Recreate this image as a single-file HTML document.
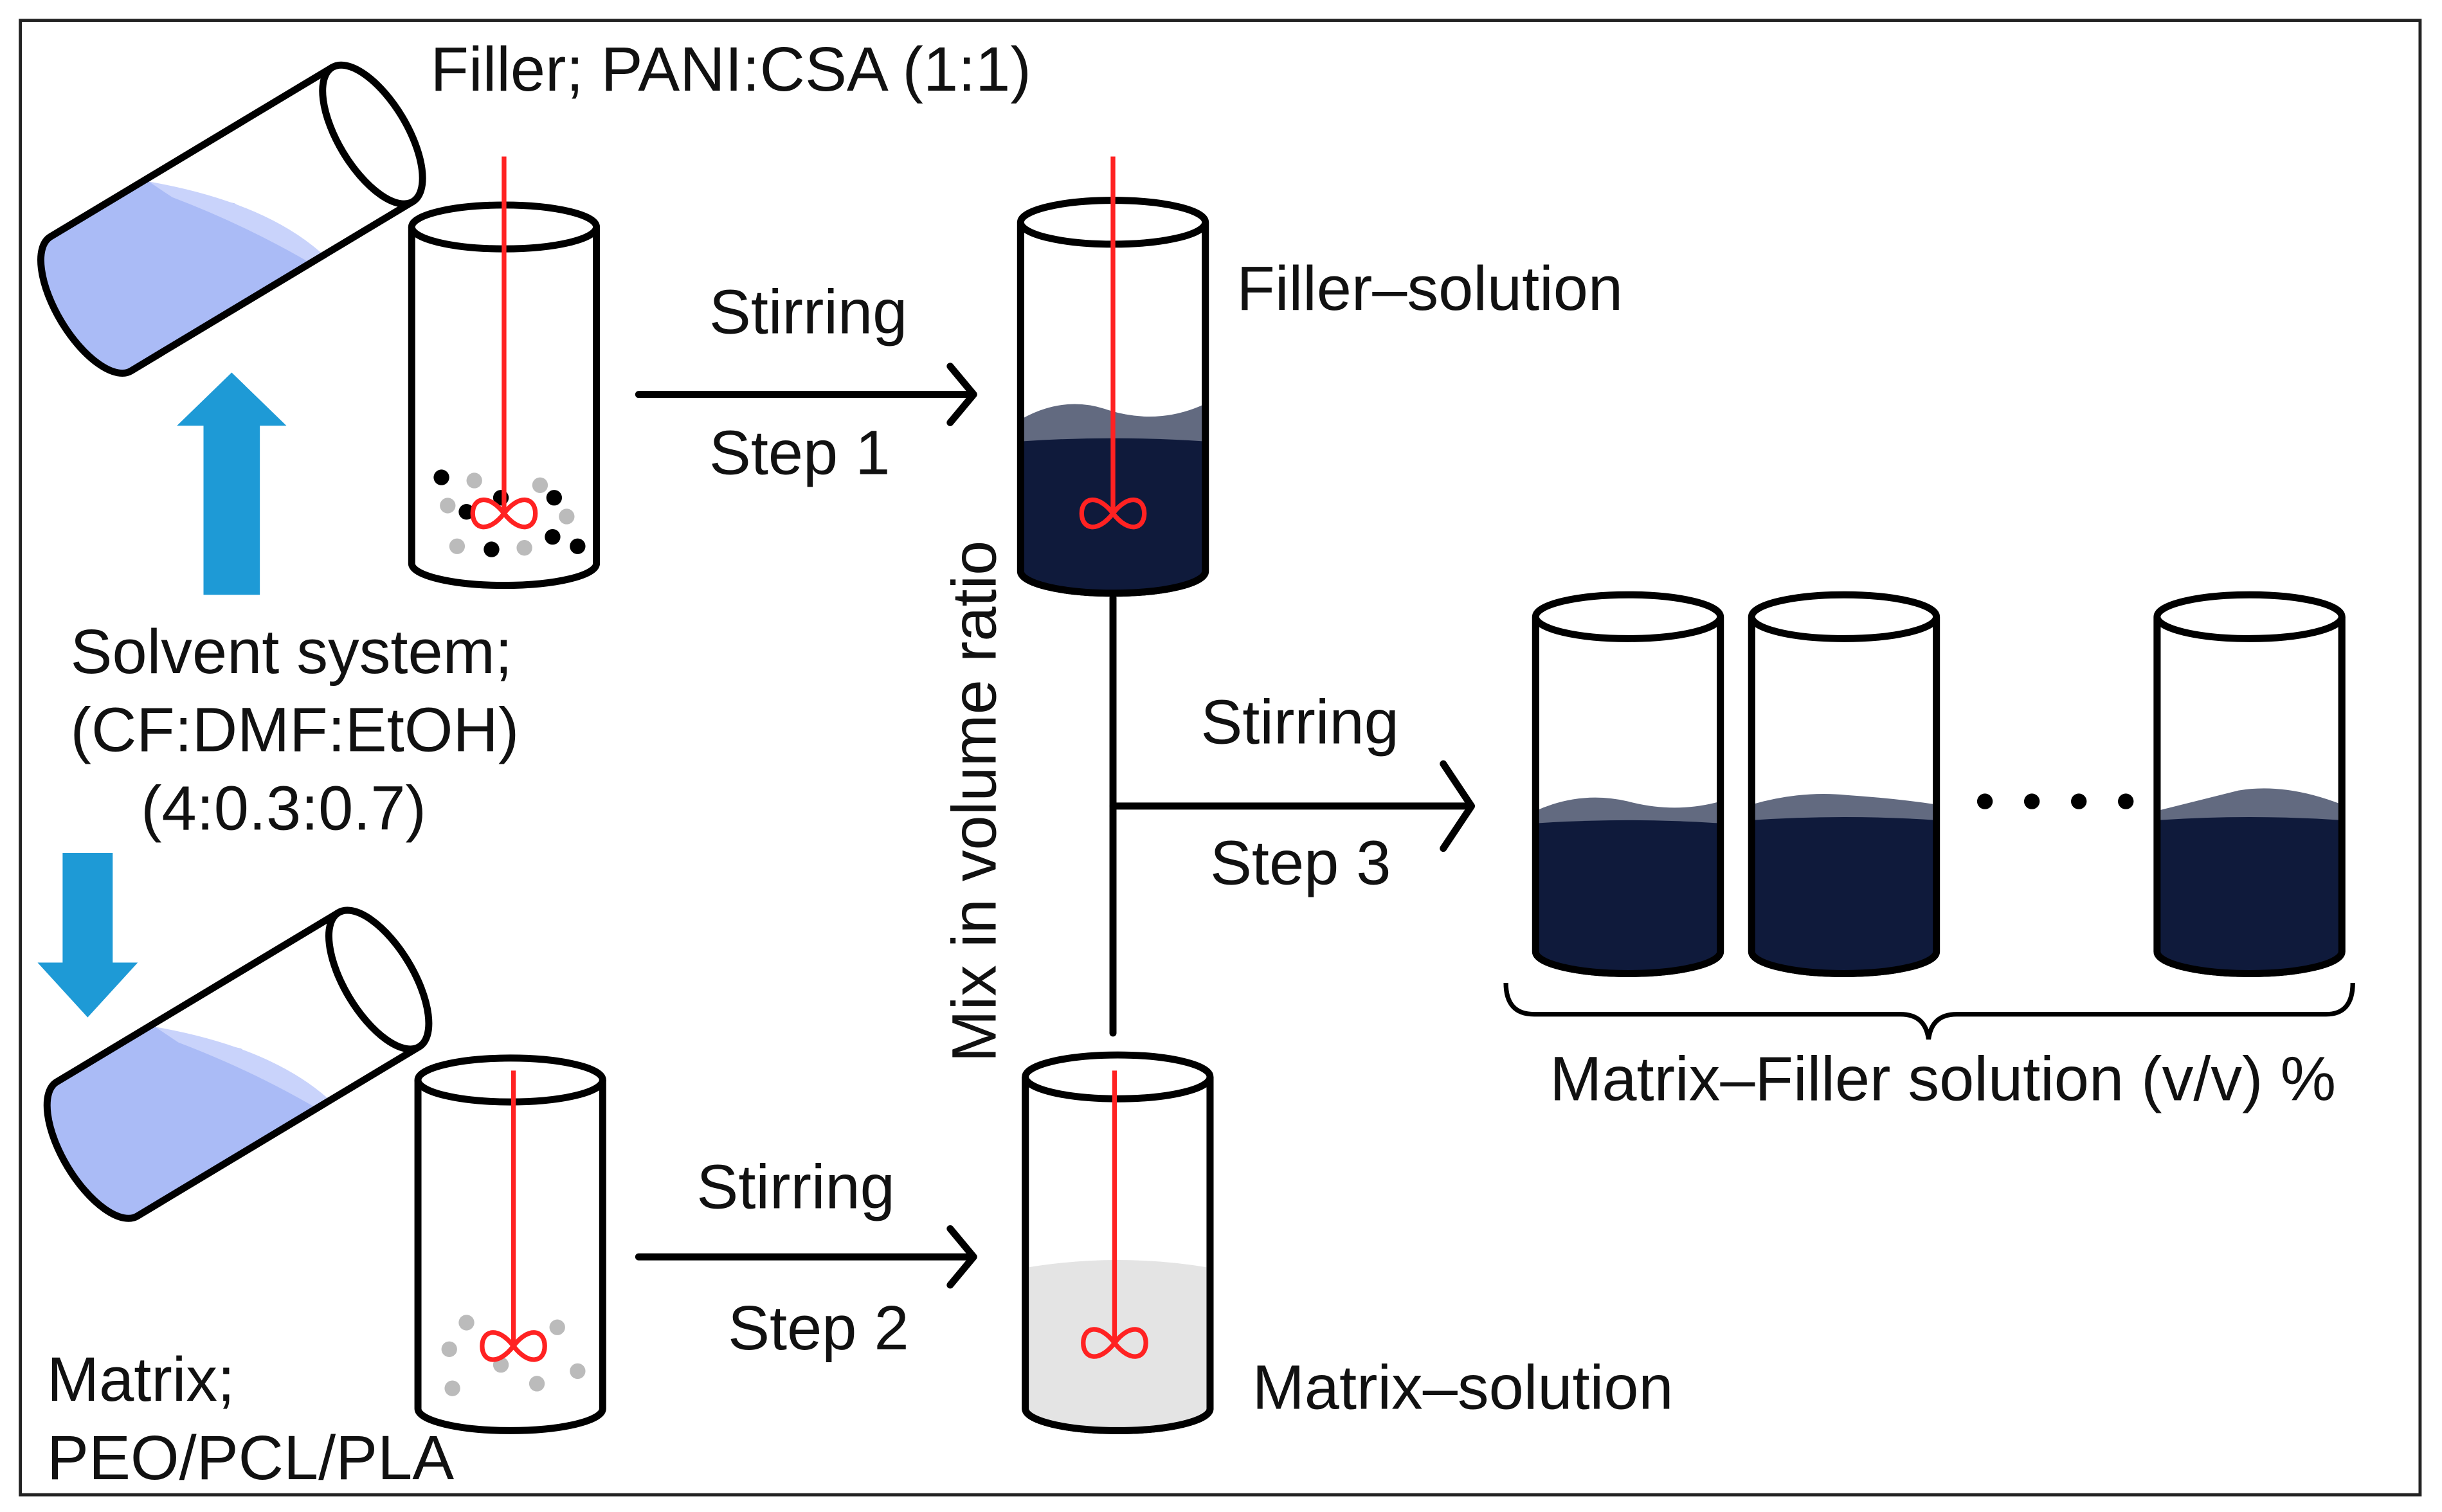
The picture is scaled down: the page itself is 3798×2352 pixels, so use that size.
<!DOCTYPE html>
<html><head><meta charset="utf-8"><style>
html,body{margin:0;padding:0;background:#fff}
svg{display:block}
text{font-family:"Liberation Sans",Arial,sans-serif;font-size:40px;fill:#111}
</style></head><body>
<svg width="3798" height="2352" viewBox="0 0 1560 966" preserveAspectRatio="none" xmlns="http://www.w3.org/2000/svg">
<defs>
<clipPath id="tb1"><path transform="translate(148,140) rotate(-31)" d="M -105 -50 L 105 -50 L 105 50 L -105 50 A 22 50 0 0 1 -105 -50 Z"/></clipPath>
<clipPath id="tb2"><path transform="translate(152,680) rotate(-31)" d="M -105 -50 L 105 -50 L 105 50 L -105 50 A 22 50 0 0 1 -105 -50 Z"/></clipPath>
</defs>
<rect x="13" y="13" width="1533" height="942" fill="#fff" stroke="#222" stroke-width="2"/>

<g>
<g clip-path="url(#tb1)">
<polygon points="10,150 95,116 150,130 214,172 214,320 10,320" fill="#aabbf6"/>
<path d="M 95,116 Q 175,130 212,168 L 205,172 Q 160,145 110,126 Z" fill="#c9d3fb"/>
</g>
<g transform="translate(148,140) rotate(-31)" fill="none" stroke="#000" stroke-width="4.5" stroke-linejoin="round">
<path d="M 105 -50 L -105 -50 A 22 50 0 0 0 -105 50 L 105 50"/>
<ellipse cx="105" cy="0" rx="22" ry="50" fill="#fff"/>
</g>
</g>
<g>
<g clip-path="url(#tb2)">
<polygon points="14,690 99,656 154,670 218,712 218,860 14,860" fill="#aabbf6"/>
<path d="M 99,656 Q 179,670 216,708 L 209,712 Q 164,685 114,666 Z" fill="#c9d3fb"/>
</g>
<g transform="translate(152,680) rotate(-31)" fill="none" stroke="#000" stroke-width="4.5" stroke-linejoin="round">
<path d="M 105 -50 L -105 -50 A 22 50 0 0 0 -105 50 L 105 50"/>
<ellipse cx="105" cy="0" rx="22" ry="50" fill="#fff"/>
</g>
</g>

<g stroke="#000" stroke-width="4.5" fill="#fff">
<path d="M 263 145 L 263 360 A 59 14 0 0 0 381 360 L 381 145"/>
<ellipse cx="322" cy="145" rx="59" ry="14"/>
</g>
<g>
<circle cx="282" cy="305" r="5" fill="#000"/><circle cx="298" cy="327" r="5" fill="#000"/>
<circle cx="320" cy="318" r="5" fill="#000"/><circle cx="354" cy="318" r="5" fill="#000"/>
<circle cx="353" cy="343" r="5" fill="#000"/><circle cx="369" cy="349" r="5" fill="#000"/>
<circle cx="314" cy="351" r="5" fill="#000"/>
<circle cx="303" cy="307" r="5" fill="#bbb"/><circle cx="345" cy="310" r="5" fill="#bbb"/>
<circle cx="286" cy="323" r="5" fill="#bbb"/><circle cx="362" cy="330" r="5" fill="#bbb"/>
<circle cx="292" cy="349" r="5" fill="#bbb"/><circle cx="335" cy="350" r="5" fill="#bbb"/>
</g>
<g stroke="#f22" stroke-width="3" fill="none">
<line x1="322" y1="100" x2="322" y2="328"/>
<path d="M322 328 C 312 315, 302 318, 302 328 C 302 338, 312 341, 322 328 C 332 315, 342 318, 342 328 C 342 338, 332 341, 322 328 Z"/>
</g>

<g stroke="#000" stroke-width="4.5" fill="#fff">
<path d="M 267 690 L 267 900 A 59 14 0 0 0 385 900 L 385 690"/>
<ellipse cx="326" cy="690" rx="59" ry="14"/>
</g>
<g fill="#bbb">
<circle cx="298" cy="845" r="5"/><circle cx="287" cy="862" r="5"/><circle cx="356" cy="848" r="5"/>
<circle cx="369" cy="876" r="5"/><circle cx="289" cy="887" r="5"/><circle cx="343" cy="884" r="5"/><circle cx="320" cy="872" r="5"/>
</g>
<g stroke="#f22" stroke-width="3" fill="none">
<line x1="328" y1="684" x2="328" y2="860"/>
<path d="M328 860 C 318 847, 308 850, 308 860 C 308 870, 318 873, 328 860 C 338 847, 348 850, 348 860 C 348 870, 338 873, 328 860 Z"/>
</g>

<polygon points="130,380 166,380 166,272 183,272 148,238 113,272 130,272" fill="#1e9ad6"/>
<polygon points="40,545 72,545 72,615 88,615 56,650 24,615 40,615" fill="#1e9ad6"/>

<g stroke="#000" stroke-width="4.5">
<path d="M 652 142 L 652 365 A 59 14 0 0 0 770 365 L 770 142" fill="#fff"/>
<path d="M 652 268 Q 680 252 708 262 Q 740 272 770 258 L 770 365 A 59 14 0 0 1 652 365 Z" fill="#626a80" stroke="none"/>
<path d="M 652 282 Q 710 278 770 282 L 770 365 A 59 14 0 0 1 652 365 Z" fill="#0f1a3b" stroke="none"/>
<path d="M 652 142 L 652 365 A 59 14 0 0 0 770 365 L 770 142" fill="none"/>
<ellipse cx="711" cy="142" rx="59" ry="14" fill="#fff"/>
</g>
<g stroke="#f22" stroke-width="3" fill="none">
<line x1="711" y1="100" x2="711" y2="328"/>
<path d="M711 328 C 701 315, 691 318, 691 328 C 691 338, 701 341, 711 328 C 721 315, 731 318, 731 328 C 731 338, 721 341, 711 328 Z"/>
</g>

<g stroke="#000" stroke-width="4.5">
<path d="M 655 688 L 655 900 A 59 14 0 0 0 773 900 L 773 688" fill="#fff"/>
<path d="M 655 810 Q 714 800 773 810 L 773 900 A 59 14 0 0 1 655 900 Z" fill="#e4e4e4" stroke="none"/>
<path d="M 655 688 L 655 900 A 59 14 0 0 0 773 900 L 773 688" fill="none"/>
<ellipse cx="714" cy="688" rx="59" ry="14" fill="#fff"/>
</g>
<g stroke="#f22" stroke-width="3" fill="none">
<line x1="712" y1="684" x2="712" y2="858"/>
<path d="M712 858 C 702 845, 692 848, 692 858 C 692 868, 702 871, 712 858 C 722 845, 732 848, 732 858 C 732 868, 722 871, 712 858 Z"/>
</g>

<g stroke="#000" stroke-width="4.5">
<g>
<path d="M 981 394 L 981 608 A 59 14 0 0 0 1099 608 L 1099 394" fill="#fff"/>
<path d="M 981 518 Q 1010 505 1040 512 Q 1070 520 1099 512 L 1099 608 A 59 14 0 0 1 981 608 Z" fill="#626a80" stroke="none"/>
<path d="M 981 526 Q 1040 522 1099 526 L 1099 608 A 59 14 0 0 1 981 608 Z" fill="#0f1a3b" stroke="none"/>
<path d="M 981 394 L 981 608 A 59 14 0 0 0 1099 608 L 1099 394" fill="none"/>
<ellipse cx="1040" cy="394" rx="59" ry="14" fill="#fff"/>
</g>
<g>
<path d="M 1119 394 L 1119 608 A 59 14 0 0 0 1237 608 L 1237 394" fill="#fff"/>
<path d="M 1119 514 Q 1150 505 1180 508 Q 1210 510 1237 514 L 1237 608 A 59 14 0 0 1 1119 608 Z" fill="#626a80" stroke="none"/>
<path d="M 1119 524 Q 1178 520 1237 524 L 1237 608 A 59 14 0 0 1 1119 608 Z" fill="#0f1a3b" stroke="none"/>
<path d="M 1119 394 L 1119 608 A 59 14 0 0 0 1237 608 L 1237 394" fill="none"/>
<ellipse cx="1178" cy="394" rx="59" ry="14" fill="#fff"/>
</g>
<g>
<path d="M 1378 394 L 1378 608 A 59 14 0 0 0 1496 608 L 1496 394" fill="#fff"/>
<path d="M 1378 518 Q 1410 510 1430 505 Q 1460 500 1496 514 L 1496 608 A 59 14 0 0 1 1378 608 Z" fill="#626a80" stroke="none"/>
<path d="M 1378 524 Q 1437 520 1496 524 L 1496 608 A 59 14 0 0 1 1378 608 Z" fill="#0f1a3b" stroke="none"/>
<path d="M 1378 394 L 1378 608 A 59 14 0 0 0 1496 608 L 1496 394" fill="none"/>
<ellipse cx="1437" cy="394" rx="59" ry="14" fill="#fff"/>
</g>
</g>
<g fill="#000"><circle cx="1268" cy="512" r="5"/><circle cx="1298" cy="512" r="5"/><circle cx="1328" cy="512" r="5"/><circle cx="1358" cy="512" r="5"/></g>

<path d="M 962 628 Q 962 648 980 648 L 1214 648 Q 1230 648 1232 664 Q 1234 648 1250 648 L 1486 648 Q 1503 648 1503 628" fill="none" stroke="#000" stroke-width="3"/>

<g stroke="#000" stroke-width="4.5" fill="none" stroke-linecap="round" stroke-linejoin="round">
<line x1="408" y1="252" x2="620" y2="252"/><polyline points="607,234 622,252 607,270"/>
<line x1="408" y1="803" x2="620" y2="803"/><polyline points="607,785 622,803 607,821"/>
<line x1="711" y1="382" x2="711" y2="660"/>
<line x1="711" y1="515" x2="938" y2="515"/><polyline points="922,488 940,515 922,542"/>
</g>

<text x="275" y="58">Filler; PANI:CSA (1:1)</text>
<text x="453" y="213">Stirring</text>
<text x="453" y="303">Step 1</text>
<text x="790" y="198">Filler–solution</text>
<text x="45" y="430">Solvent system;</text>
<text x="45" y="480">(CF:DMF:EtOH)</text>
<text x="90" y="530">(4:0.3:0.7)</text>
<text x="767" y="475">Stirring</text>
<text x="773" y="565">Step 3</text>
<text x="445" y="772">Stirring</text>
<text x="465" y="862">Step 2</text>
<text x="800" y="900">Matrix–solution</text>
<text x="30" y="895">Matrix;</text>
<text x="30" y="945">PEO/PCL/PLA</text>
<text x="990" y="703">Matrix–Filler solution (v/v) %</text>
<text transform="translate(636,512) rotate(-90)" text-anchor="middle">Mix in volume ratio</text>
</svg>
</body></html>
